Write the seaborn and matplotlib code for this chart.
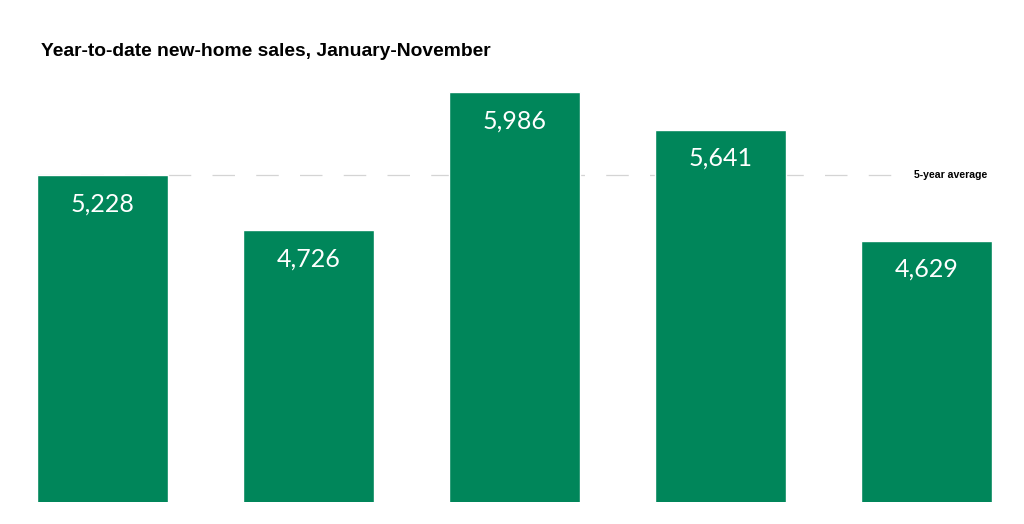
import pandas as pd
import numpy as np
import matplotlib.pyplot as plt
import seaborn as sns

# year-to-date sales, Jan-Nov
years = ['2015', '2016', '2017', '2018', '2019']
sales = [5228, 4726, 5986, 5641, 4629]
avg_5yr = 5228
green = '#00865A'

df = pd.DataFrame({'year': years, 'sales': sales})

sns.set_style('white')
fig = plt.figure(figsize=(10.24, 5.24), dpi=100)
ax = fig.add_axes([0, 22/524, 1, (502-92)/524])

# 5-year average, drawn behind the bars
ax.axhline(avg_5yr, xmin=0.036, xmax=0.883, color='#d4d4d4', lw=0.9,
           dashes=(18, 17), zorder=0)
sns.barplot(data=df, x='year', y='sales', color=green, saturation=1,
            width=0.636, ax=ax, zorder=2)

ax.set_xlim(-0.4976, 4.473)
ax.set_ylim(2242, 5986)
ax.axis('off')

for i, v in enumerate(sales):
    ax.text(i, v - 262, f'{v:,}', ha='center', va='center', color='white',
            fontsize=18, family='Lato', zorder=3)

ax.text(0.893, avg_5yr, '5-year average', transform=ax.get_yaxis_transform(),
        ha='left', va='center', fontsize=7.6, fontweight='heavy',
        family='Liberation Sans', color='black')

fig.text(41/1024, 1 - 52/524, 'Year-to-date new-home sales, January-November',
         ha='left', va='center', fontsize=13.9, fontweight='heavy',
         family='Liberation Sans', color='black')

fig.savefig('out.png', dpi=100)
